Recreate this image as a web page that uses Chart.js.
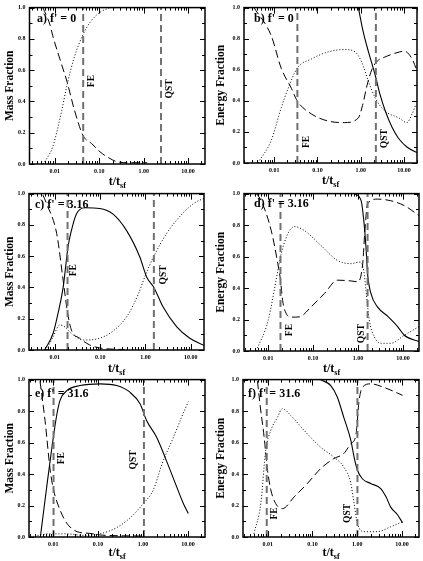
<!DOCTYPE html>
<html><head><meta charset="utf-8">
<script src="https://cdn.jsdelivr.net/npm/chart.js@4/dist/chart.umd.min.js"></script>
<style>
html,body{margin:0;padding:0;background:#fff;width:423px;height:561px;overflow:hidden;position:relative;}
canvas{position:absolute;}
</style></head><body>
<canvas id="c0" width="212" height="192" style="left:0;top:0"></canvas>
<canvas id="c1" width="211" height="192" style="left:212px;top:0"></canvas>
<canvas id="c2" width="212" height="192" style="left:0;top:186px"></canvas>
<canvas id="c3" width="211" height="192" style="left:212px;top:186px"></canvas>
<canvas id="c4" width="212" height="189" style="left:0;top:372px"></canvas>
<canvas id="c5" width="211" height="189" style="left:212px;top:372px"></canvas>
<script>
// ---------- data ----------
const xTickValues = [0.01, 0.1, 1, 10];
const yTickStep = 0.2;
const panelTitles = ["a) f' = 0", "b) f' = 0", "c) f' = 3.16", "d) f' = 3.16", "e) f' = 31.6", "f) f' = 31.6"];
const yTitles = ["Mass Fraction", "Energy Fraction", "Mass Fraction", "Energy Fraction", "Mass Fraction", "Energy Fraction"];
const xMins = [0.0027, 0.002, 0.0027, 0.0029, 0.0029, 0.0028];
const xMaxs = [24, 20, 19.5, 22.7, 24, 24];
const feTimes = [0.0436, 0.0343, 0.0191, 0.0188, 0.0102, 0.0095];
const qstTimes = [2.46, 2.24, 1.53, 1.63, 1.05, 1.01];
const feLabelY = [0.53, 0.135, 0.51, 0.133, 0.50, 0.15];
const qstLabelY = [0.48, 0.156, 0.48, 0.11, 0.49, 0.15];

const aSolid = [];
const aDashed = [[0.0054,1.0],[0.0077,0.895],[0.009,0.82],[0.0143,0.635],[0.0187,0.53],[0.028,0.34],[0.0436,0.18],[0.068,0.13],[0.104,0.078],[0.175,0.035],[0.25,0.015],[0.5,0.008],[1.2,0.008]];
const aDotted = [[0.0054,0],[0.007,0.046],[0.009,0.11],[0.0143,0.34],[0.0187,0.50],[0.028,0.69],[0.0436,0.83],[0.062,0.905],[0.104,0.97],[0.175,1.0]];

const bSolid = [[0.88,1.0],[1.15,0.84],[1.51,0.715],[2.15,0.568],[2.8,0.44],[3.7,0.335],[5.3,0.23],[7.6,0.156],[11.7,0.103],[18.2,0.072],[20,0.068]];
const bDashed = [[0.0034,1.0],[0.0085,0.82],[0.0145,0.61],[0.025,0.48],[0.034,0.40],[0.073,0.315],[0.177,0.27],[0.42,0.26],[0.88,0.29],[1.1,0.37],[1.4,0.50],[1.8,0.60],[2.4,0.655],[3.5,0.68],[5.3,0.70],[8,0.715],[10.4,0.72],[13,0.70],[16,0.66],[19,0.61]];
const bDotted = [[0.0042,0],[0.0085,0.145],[0.0145,0.355],[0.021,0.48],[0.034,0.61],[0.073,0.67],[0.177,0.715],[0.42,0.73],[0.74,0.715],[1.05,0.65],[1.51,0.525],[2.15,0.42],[3.6,0.335],[7.6,0.29],[11.7,0.26],[15.3,0.315],[19,0.38]];

const cSolid = [[0.006,0],[0.0092,0.107],[0.0118,0.235],[0.0153,0.40],[0.0196,0.66],[0.0233,0.765],[0.030,0.87],[0.046,0.91],[0.098,0.905],[0.19,0.87],[0.38,0.765],[0.75,0.595],[1.06,0.467],[1.53,0.40],[2.45,0.275],[4.9,0.148],[9.5,0.075],[19.5,0.03]];
const cDashed = [[0.0055,0.99],[0.0066,0.935],[0.011,0.745],[0.0153,0.445],[0.0191,0.24],[0.0233,0.127],[0.0356,0.075],[0.059,0.032],[0.098,0.013],[0.2,0.005],[0.35,0.003]];
const cDotted = [[0.0066,0],[0.0092,0.085],[0.0129,0.16],[0.0166,0.148],[0.0233,0.106],[0.042,0.064],[0.083,0.07],[0.19,0.12],[0.4,0.22],[0.7,0.36],[1.0,0.48],[1.53,0.6],[3,0.75],[6,0.86],[12,0.94],[19.5,0.97]];

const dSolid = [[0.83,1.0],[1.17,0.955],[1.34,0.83],[1.5,0.66],[1.63,0.49],[1.94,0.365],[2.7,0.28],[4.6,0.22],[7.6,0.155],[10.7,0.10],[22.7,0.06]];
const dDashed = [[0.0055,1.0],[0.007,0.955],[0.0117,0.765],[0.0164,0.555],[0.0188,0.45],[0.021,0.32],[0.025,0.24],[0.0325,0.215],[0.0497,0.217],[0.09,0.28],[0.178,0.365],[0.35,0.45],[0.70,0.445],[0.98,0.44],[1.27,0.555],[1.42,0.765],[1.63,0.935],[2.7,0.965],[5.3,0.955],[10.7,0.924],[22.7,0.86]];
const dDotted = [[0.0054,0],[0.0099,0.19],[0.0164,0.51],[0.0188,0.6],[0.0274,0.745],[0.0384,0.79],[0.064,0.765],[0.15,0.67],[0.35,0.575],[0.7,0.555],[1.07,0.565],[1.34,0.51],[1.5,0.385],[1.78,0.196],[2.3,0.09],[3.2,0.049],[5.3,0.049],[10.7,0.10],[22.7,0.155]];

const eSolid = [[0.0053,0.02],[0.0072,0.32],[0.0094,0.57],[0.0121,0.78],[0.0143,0.87],[0.0202,0.93],[0.0398,0.962],[0.111,0.973],[0.26,0.962],[0.51,0.92],[0.86,0.846],[1.2,0.74],[2.0,0.635],[3.3,0.487],[5.6,0.32],[7.9,0.213],[10.2,0.15]];
const eDashed = [[0.0051,0.99],[0.0066,0.74],[0.0086,0.424],[0.0102,0.30],[0.0143,0.17],[0.0202,0.087],[0.034,0.034],[0.066,0.023],[0.11,0.013],[0.3,0.008],[1.0,0.006]];
const eDotted = [[0.0045,0.01],[0.008,0.02],[0.02,0.02],[0.05,0.01],[0.11,0.02],[0.26,0.06],[0.51,0.12],[1.0,0.21],[1.7,0.30],[2.7,0.47],[4.7,0.63],[7.2,0.76],[10.2,0.86]];

const fSolid = [[0.15,1.0],[0.256,0.962],[0.36,0.888],[0.5,0.76],[0.72,0.614],[0.85,0.508],[1.01,0.424],[1.3,0.37],[2.0,0.34],[3.35,0.308],[4.4,0.255],[5.6,0.19],[8.0,0.14],[10.3,0.09]];
const fDashed = [[0.0059,0.99],[0.0067,0.846],[0.0083,0.635],[0.0099,0.424],[0.0117,0.30],[0.015,0.213],[0.0213,0.18],[0.039,0.255],[0.077,0.34],[0.153,0.435],[0.30,0.498],[0.5,0.53],[0.72,0.593],[0.93,0.645],[1.1,0.867],[1.3,0.95],[2.0,0.973],[4.0,0.95],[10.3,0.9]];
const fDotted = [[0.0049,0.02],[0.007,0.213],[0.009,0.55],[0.0117,0.677],[0.0165,0.76],[0.0213,0.815],[0.0327,0.772],[0.065,0.677],[0.153,0.57],[0.30,0.508],[0.5,0.445],[0.72,0.34],[0.85,0.213],[1.01,0.087],[1.42,0.034],[2.8,0.034],[5.6,0.065],[10.3,0.097]];

const solidSeries = [aSolid, bSolid, cSolid, dSolid, eSolid, fSolid];
const dashedSeries = [aDashed, bDashed, cDashed, dDashed, eDashed, fDashed];
const dottedSeries = [aDotted, bDotted, cDotted, dDotted, eDotted, fDotted];

// ---------- layout (canvas-relative chart area) ----------
const layoutGeom = [
  {w:212,h:192,l:29.5,t:5,r:205,b:164, tx:7.5,ty:14, yt:10, feDx:8.4, qDx:9, xt:21},
  {w:211,h:192,l:32,t:5,r:205,b:163, tx:10,ty:14, yt:9, feDx:9, qDx:8.7, xt:21},
  {w:212,h:192,l:29,t:7,r:204,b:164, tx:6,ty:14, yt:10, feDx:6.3, qDx:9.3, xt:21.5},
  {w:211,h:192,l:32,t:7,r:207,b:165, tx:10,ty:13, yt:9, feDx:9, qDx:-6, xt:21},
  {w:212,h:189,l:29,t:7,r:205,b:165, tx:6,ty:17, yt:10, feDx:8.4, qDx:-10.7, xt:18.5},
  {w:211,h:189,l:31,t:7,r:207,b:165, tx:5,ty:17, yt:9, feDx:8, qDx:-9.4, xt:18.5}
];
const SERIF = '"Liberation Serif","Times New Roman",serif';

const decorPlugin = {
  id: 'decor',
  afterDraw(chart) {
    const i = chart.options.plugins.decor.idx;
    const g = layoutGeom[i];
    const ctx = chart.ctx, ca = chart.chartArea;
    const xs = chart.scales.x, ys = chart.scales.y;
    ctx.save();
    ctx.strokeStyle = '#000';
    ctx.lineWidth = 1;
    ctx.beginPath();
    const e0 = Math.floor(Math.log10(xs.min)), e1 = Math.ceil(Math.log10(xs.max));
    for (let e = e0; e <= e1; e++) {
      for (let m = 1; m <= 9; m++) {
        const v = m * Math.pow(10, e);
        if (v < xs.min || v > xs.max) continue;
        const px = Math.round(xs.getPixelForValue(v)) + 0.5;
        const len = m === 1 ? 6 : 3;
        ctx.moveTo(px, ca.bottom); ctx.lineTo(px, ca.bottom - len);
        ctx.moveTo(px, ca.top); ctx.lineTo(px, ca.top + len);
      }
    }
    for (let k = 0; k <= 10; k++) {
      const py = Math.round(ys.getPixelForValue(k / 10)) + 0.5;
      const len = k % 2 === 0 ? 5 : 3;
      ctx.moveTo(ca.left, py); ctx.lineTo(ca.left + len, py);
      ctx.moveTo(ca.right, py); ctx.lineTo(ca.right - len, py);
    }
    ctx.stroke();
    ctx.lineWidth = 1.5;
    ctx.strokeRect(ca.left, ca.top, ca.right - ca.left, ca.bottom - ca.top);

    ctx.fillStyle = '#000';
    ctx.font = 'bold 12px ' + SERIF;
    ctx.textAlign = 'left'; ctx.textBaseline = 'alphabetic';
    ctx.fillText(panelTitles[i], ca.left + g.tx, ca.top + g.ty);

    ctx.font = 'bold 9.5px ' + SERIF;
    ctx.textAlign = 'center'; ctx.textBaseline = 'middle';
    const rot = (txt, x, y) => { ctx.save(); ctx.translate(x, y); ctx.rotate(-Math.PI / 2); ctx.fillText(txt, 0, 0); ctx.restore(); };
    rot('FE', xs.getPixelForValue(feTimes[i]) + g.feDx, ys.getPixelForValue(feLabelY[i]));
    rot('QST', xs.getPixelForValue(qstTimes[i]) + g.qDx, ys.getPixelForValue(qstLabelY[i]));

    ctx.font = 'bold 11.5px ' + SERIF;
    rot(yTitles[i], g.yt, (ca.top + ca.bottom) / 2);

    const big = 'bold 12px ' + SERIF, small = 'bold 8px ' + SERIF;
    ctx.font = big; const w1 = ctx.measureText('t/t').width;
    ctx.font = small; const w2 = ctx.measureText('sf').width;
    const x0 = (ca.left + ca.right) / 2 - (w1 + w2) / 2;
    const yb = ca.bottom + g.xt;
    ctx.textAlign = 'left'; ctx.textBaseline = 'alphabetic';
    ctx.font = big; ctx.fillText('t/t', x0, yb);
    ctx.font = small; ctx.fillText('sf', x0 + w1, yb + 3);
    ctx.restore();
  }
};

function lineDs(points, dash, width) {
  return {
    data: points.map(p => ({x: p[0], y: p[1]})),
    borderColor: '#000', borderWidth: width, borderDash: dash,
    pointRadius: 0, fill: false, cubicInterpolationMode: 'monotone'
  };
}
function vlineDs(t) {
  return {
    data: [{x: t, y: 0}, {x: t, y: 1}],
    borderColor: '#707070', borderWidth: 2, borderDash: [7, 4],
    pointRadius: 0, fill: false
  };
}

for (let i = 0; i < 6; i++) {
  const g = layoutGeom[i];
  const datasets = [
    vlineDs(feTimes[i]), vlineDs(qstTimes[i]),
    lineDs(solidSeries[i], [], 1.1),
    lineDs(dashedSeries[i], [8, 4], 1),
    lineDs(dottedSeries[i], [1, 2], 1)
  ];
  new Chart(document.getElementById('c' + i), {
    type: 'line',
    data: {datasets},
    plugins: [decorPlugin],
    options: {
      responsive: false, animation: false, devicePixelRatio: 1,
      layout: {padding: {left: 0, top: g.t, right: g.w - g.r, bottom: 0}},
      plugins: {legend: {display: false}, tooltip: {enabled: false}, decor: {idx: i}},
      scales: {
        x: {
          type: 'logarithmic', min: xMins[i], max: xMaxs[i],
          grid: {display: false, drawTicks: false}, border: {display: false},
          afterBuildTicks: s => { s.ticks = xTickValues.filter(v => v >= s.min && v <= s.max).map(v => ({value: v})); },
          afterFit: s => { s.height = g.h - g.b; },
          ticks: {autoSkip: false, maxRotation: 0, padding: 4, color: '#000',
            font: {family: SERIF, size: 6, weight: 'bold'},
            callback: v => Number(v).toFixed(2)}
        },
        y: {
          min: 0, max: 1,
          grid: {display: false, drawTicks: false}, border: {display: false},
          afterFit: s => { s.width = g.l; },
          ticks: {stepSize: yTickStep, padding: 4, color: '#000',
            font: {family: SERIF, size: 6, weight: 'bold'},
            callback: v => Number(v).toFixed(1)}
        }
      }
    }
  });
}
</script>
</body></html>
